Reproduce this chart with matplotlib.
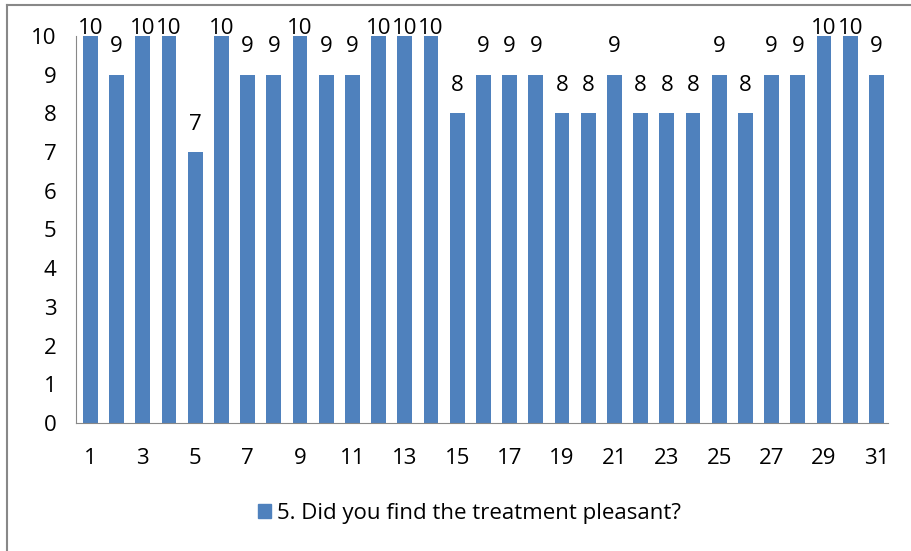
import matplotlib.pyplot as plt
from matplotlib.lines import Line2D
from matplotlib.patches import Patch

days = list(range(1, 32))
scores = [10, 9, 10, 10, 7, 10, 9, 9, 10, 9, 9, 10, 10, 10, 8, 9, 9, 9, 8, 8,
          9, 8, 8, 8, 9, 8, 9, 9, 10, 10, 9]
series_name = "5. Did you find the treatment pleasant?"

plt.rcParams['font.family'] = ['Open Sans', 'DejaVu Sans']
bar_color = '#4F81BD'
fs = 16

fig = plt.figure(figsize=(9.11, 5.51), dpi=100)
ax = fig.add_axes([0.0834, 0.232, 0.8916, 0.703])

ax.bar(days, scores, width=0.57, color=bar_color)
# labels sit outside the bar end, but get pushed down at the top of the plot
for d, s in zip(days, scores):
    ax.text(d, min(s + 0.72, 10.18), str(s), ha='center', va='center',
            fontsize=fs, clip_on=False)

ax.set_xlim(0.45, 31.45)
ax.set_ylim(0, 10)
ax.set_yticks(range(0, 11))
ax.set_xticks(days[::2])
ax.tick_params(axis='both', length=0, labelsize=fs)
ax.tick_params(axis='x', pad=18)
ax.tick_params(axis='y', pad=14)
for sp in ['top', 'right']:
    ax.spines[sp].set_visible(False)
for sp in ['left', 'bottom']:
    ax.spines[sp].set_color('#888888')

# outer chart border
fig.add_artist(Line2D([7 / 911, 1.2], [1 - 5 / 551, 1 - 5 / 551],
                      transform=fig.transFigure, color='#888888', lw=1.5))
fig.add_artist(Line2D([7 / 911, 7 / 911], [1 - 5 / 551, -0.2],
                      transform=fig.transFigure, color='#888888', lw=1.5))

fig.legend(handles=[Patch(color=bar_color, label=series_name)],
           loc='center', bbox_to_anchor=(0.515, 1 - 513 / 551), frameon=False,
           fontsize=fs, handlelength=0.6, handleheight=0.6, handletextpad=0.25)

fig.savefig('out.png', dpi=100)
